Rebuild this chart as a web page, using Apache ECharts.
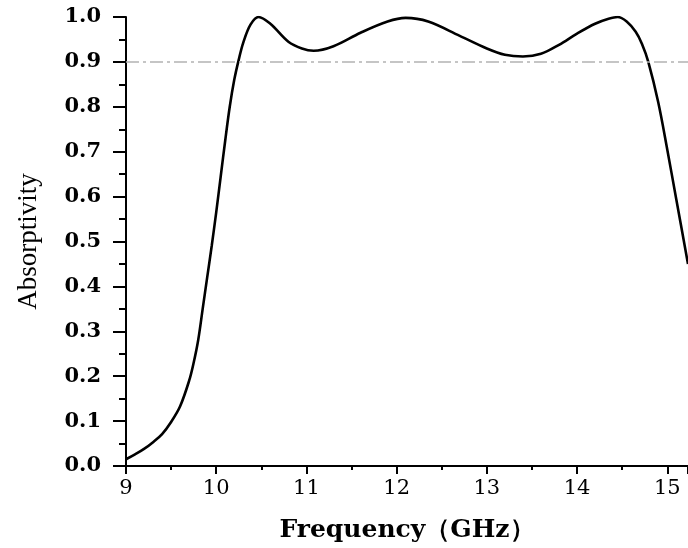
<!DOCTYPE html>
<html lang="en">
<head>
<meta charset="UTF-8">
<title>Absorptivity</title>
<style type="text/css">
html, body { margin: 0; padding: 0; background: #fff; }
#chart { width: 688px; height: 548px; }
</style>
</head>
<body>
<div id="chart"></div>
<script src="https://cdn.jsdelivr.net/npm/echarts@6/dist/echarts.min.js"></script>
<script>
// frequency (GHz) and absorptivity
var freq = [9.0, 9.1, 9.2, 9.3, 9.4, 9.5, 9.6, 9.7, 9.75, 9.8, 9.85, 9.9, 9.95, 10.0,
  10.05, 10.1, 10.15, 10.2, 10.25, 10.3, 10.38, 10.47, 10.6, 10.8, 10.95, 11.08, 11.3,
  11.6, 11.9, 12.1, 12.35, 12.7, 13.0, 13.2, 13.4, 13.6, 13.8, 14.0, 14.2, 14.35, 14.45,
  14.55, 14.65, 14.72, 14.79, 14.9, 15.0, 15.1, 15.23];
var absorb = [0.015, 0.026, 0.038, 0.053, 0.071, 0.098, 0.133, 0.19, 0.23, 0.28, 0.35, 0.42, 0.49, 0.565,
  0.645, 0.725, 0.8, 0.86, 0.905, 0.943, 0.983, 1.0, 0.985, 0.945, 0.93, 0.925, 0.935,
  0.965, 0.99, 0.998, 0.99, 0.958, 0.93, 0.916, 0.912, 0.918, 0.938, 0.963, 0.985, 0.996, 1.0,
  0.99, 0.967, 0.94, 0.9, 0.81, 0.705, 0.594, 0.45];
var threshold = 0.9;

var points = [];
for (var i = 0; i < freq.length; i++) {
  points.push([freq[i], absorb[i]]);
}

var myChart = echarts.init(document.getElementById('chart'));
var option = {
  animation: false,
  grid: { left: 126, right: 0, top: 17, bottom: 81 },
  xAxis: {
    type: 'value',
    min: 9,
    max: 15.23,
    interval: 1,
    name: 'Frequency（GHz）',
    nameLocation: 'middle',
    nameGap: 52,
    nameTextStyle: { fontFamily: 'DejaVu Serif', fontWeight: 'bold', fontSize: 25, color: '#000' },
    axisLine: { lineStyle: { color: '#000', width: 2 } },
    axisTick: { inside: false, length: 8, lineStyle: { color: '#000', width: 2 } },
    minorTick: { show: true, splitNumber: 2, length: 4, lineStyle: { color: '#000', width: 2 } },
    axisLabel: {
      margin: 12,
      fontFamily: 'DejaVu Serif',
      fontSize: 21,
      color: '#000',
      showMaxLabel: false,
      formatter: function (v) { return Math.abs(v - Math.round(v)) < 1e-6 ? String(Math.round(v)) : ''; }
    },
    splitLine: { show: false }
  },
  yAxis: {
    type: 'value',
    min: 0,
    max: 1,
    interval: 0.1,
    name: 'Absorptivity',
    nameLocation: 'middle',
    nameGap: 84,
    nameTextStyle: { fontFamily: 'Liberation Serif', fontSize: 27, color: '#000' },
    axisLine: { show: true, lineStyle: { color: '#000', width: 2 } },
    axisTick: { show: true, inside: false, length: 13, lineStyle: { color: '#000', width: 2 } },
    minorTick: { show: true, splitNumber: 2, length: 7, lineStyle: { color: '#000', width: 2 } },
    axisLabel: {
      margin: 25,
      fontFamily: 'DejaVu Serif',
      fontWeight: 'bold',
      fontSize: 21,
      color: '#000',
      formatter: function (v) { return v.toFixed(1); }
    },
    splitLine: { show: false }
  },
  series: [{
    type: 'line',
    data: points,
    smooth: 0.35,
    showSymbol: false,
    clip: true,
    lineStyle: { color: '#000', width: 2.6 },
    markLine: {
      silent: true,
      symbol: 'none',
      label: { show: false },
      lineStyle: { color: '#b3b3b3', width: 1.5, type: [13, 4, 3, 4] },
      data: [{ yAxis: threshold }]
    }
  }]
};
myChart.setOption(option);
</script>
</body>
</html>
